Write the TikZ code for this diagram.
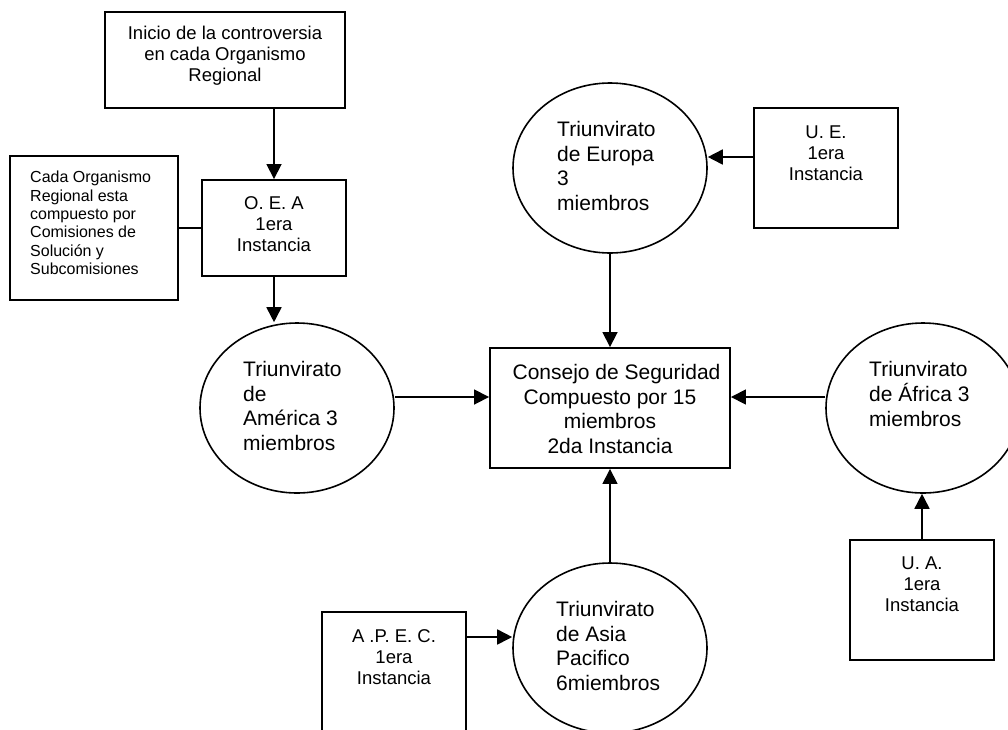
\documentclass[tikz,border=0pt]{standalone}
\usepackage{fontspec}
\setmainfont{Liberation Sans}
\usetikzlibrary{arrows.meta,shapes.geometric}
\tikzset{
 box/.style={draw, line width=1.9pt, rectangle, inner sep=0pt},
 ell/.style={draw, ellipse, line width=1.6pt, minimum width=194pt, minimum height=170pt, inner sep=0pt},
 arr/.style={line width=1.7pt, -{Triangle[length=15pt,width=15pt]}},
 ln/.style={line width=1.7pt},
 big/.style={font=\fontsize{21}{24.6}\selectfont, inner sep=0pt},
 med/.style={font=\fontsize{18.5}{21}\selectfont, inner sep=0pt, align=center},
 sml/.style={font=\fontsize{16}{18.3}\selectfont, inner sep=0pt, align=left},
}
\begin{document}
\begin{tikzpicture}[x=1pt,y=-1pt]
\clip (0,0) rectangle (1008,729);
\fill[white] (0,0) rectangle (1008,729);

\node[box, minimum width=240pt, minimum height=96pt] (ini) at (225,60) {};
\node[med] (init) at (225,56) {Inicio de la controversia\\en cada Organismo\\Regional};

\node[box, minimum width=168pt, minimum height=144pt] (cada) at (94,228) {};
\node[sml, anchor=west] (cadat) at (30,223) {Cada Organismo\\Regional esta\\compuesto por\\Comisiones de\\Solución y\\Subcomisiones};

\node[box, minimum width=144pt, minimum height=96pt] (oea) at (274,228) {};
\node[med] (oeat) at (274,224) {O. E. A\\1era\\Instancia};

\node[ell] (ame) at (297,408) {};
\node[big, align=left, anchor=west] (amet) at (243,406) {Triunvirato\\de\\América 3\\miembros};

\node[ell] (eur) at (610,168) {};
\node[big, align=left, anchor=west] (eurt) at (557,166) {Triunvirato\\de Europa\\3\\miembros};

\node[box, minimum width=144pt, minimum height=120pt] (ue) at (826,168) {};
\node[med] (uet) at (826,153) {U. E.\\1era\\Instancia};

\node[box, minimum width=240pt, minimum height=120pt] (cons) at (610,408) {};
\node[big, align=center] (const) at (610,409) {\hspace*{13pt}Consejo de Seguridad\\Compuesto por 15\\miembros\\2da Instancia};

\node[ell] (afr) at (923,408) {};
\node[big, align=left, anchor=west] (afrt) at (869,394) {Triunvirato\\de África 3\\miembros};

\node[box, minimum width=144pt, minimum height=120pt] (ua) at (922,600) {};
\node[med] (uat) at (922,584) {U. A.\\1era\\Instancia};

\node[ell] (asia) at (610,648) {};
\node[big, align=left, anchor=west] (asiat) at (556,646) {Triunvirato\\de Asia\\Pacifico\\6miembros};

\node[box, minimum width=144pt, minimum height=120pt] (apec) at (394,672) {};
\node[med] (apect) at (394,657) {A .P. E. C.\\1era\\Instancia};

\coordinate (yue) at (0,157);
\coordinate (ymid) at (0,397);
\coordinate (yap) at (0,637);

\draw[arr] (oea.north |- ini.south) -- (oea.north);
\draw[ln] (cada.east) -- (oea.west);
\draw[arr] (oea.south) -- (oea.south |- ame.north);
\draw[arr] (ue.west |- yue) -- (eur.east |- yue);
\draw[arr] (eur.south) -- (cons.north);
\draw[arr] (ame.east |- ymid) -- (cons.west |- ymid);
\draw[arr] (afr.west |- ymid) -- (cons.east |- ymid);
\draw[arr] (asia.north) -- (cons.south);
\draw[arr] (ua.north) -- (ua.north |- afr.south);
\draw[arr] (apec.east |- yap) -- (asia.west |- yap);
\end{tikzpicture}
\end{document}
